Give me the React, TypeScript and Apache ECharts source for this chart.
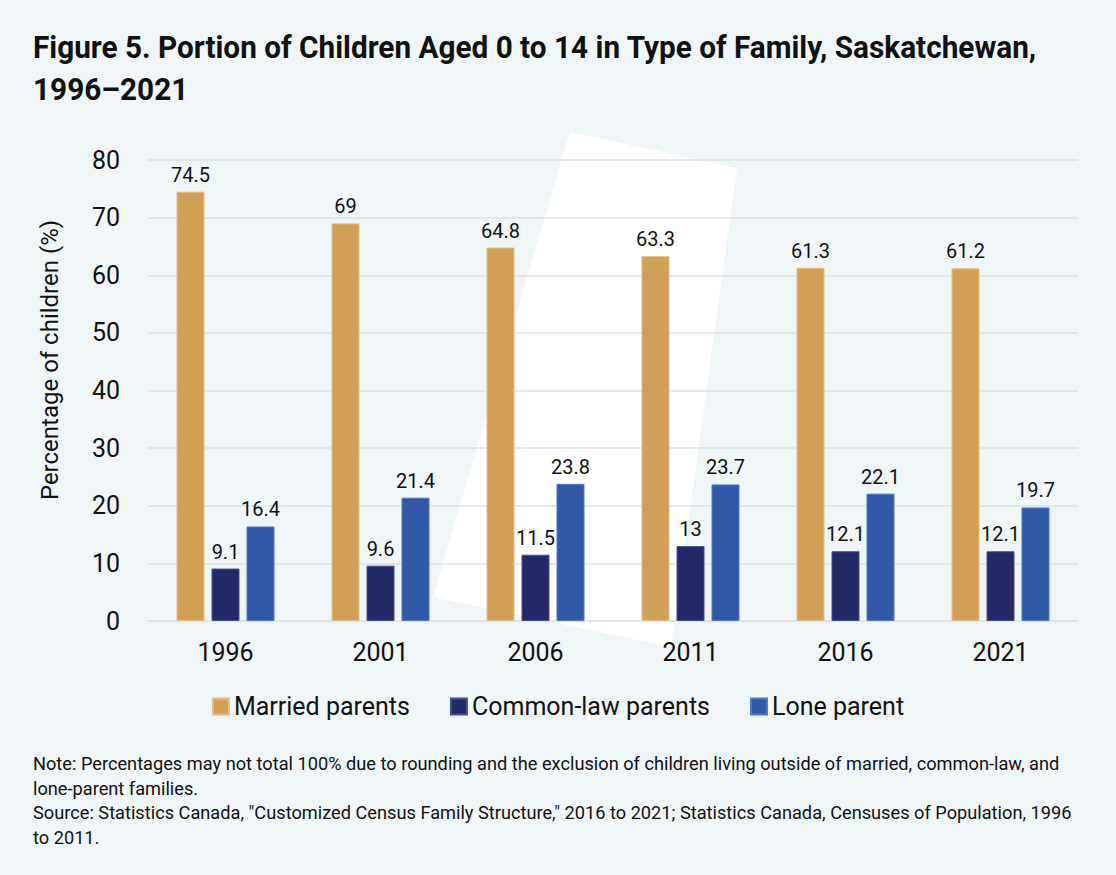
import React, { useEffect, useRef } from "react";
import * as echarts from "echarts";

const categories = ["1996", "2001", "2006", "2011", "2016", "2021"];
const married = [74.5, 69, 64.8, 63.3, 61.3, 61.2];
const commonLaw = [9.1, 9.6, 11.5, 13, 12.1, 12.1];
const loneParent = [16.4, 21.4, 23.8, 23.7, 22.1, 19.7];
const seriesNames = ["Married parents", "Common-law parents", "Lone parent"];
const colors = ["#CFA055", "#222966", "#3159A8"];
const borders = ["#E2BE85", "#4A4F86", "#5577BC"];
const yAxisName = "Percentage of children (%)";
const titleLines = [
  "Figure 5. Portion of Children Aged 0 to 14 in Type of Family, Saskatchewan,",
  "1996–2021",
];
const noteLines = [
  "Note: Percentages may not total 100% due to rounding and the exclusion of children living outside of married, common-law, and",
  "lone-parent families.",
  "Source: Statistics Canada, \"Customized Census Family Structure,\" 2016 to 2021; Statistics Canada, Censuses of Population, 1996",
  "to 2011.",
];

const FONT = "Roboto, 'Liberation Sans', sans-serif";

function measure(text: string, font: string): number {
  const c = document.createElement("canvas");
  const ctx = c.getContext("2d");
  if (!ctx) return 1;
  ctx.font = font;
  return ctx.measureText(text).width || 1;
}

export default function App() {
  const ref = useRef<HTMLDivElement>(null);
  useEffect(() => {
    document.body.style.margin = "0";
    if (!ref.current) return;
    const chart = echarts.init(ref.current, null, { renderer: "svg" });
    const data = [married, commonLaw, loneParent];
    const titleSize = 32;
    const noteSize = 18;
    const titleScale = (1037 - 33) / measure(titleLines[0], `bold ${titleSize}px Roboto`);
    const noteScale = (1060 - 33) / measure(noteLines[0], `${noteSize}px Roboto`);
    chart.setOption({
      animation: false,
      backgroundColor: "#F0F5F8",
      textStyle: { fontFamily: FONT },
      graphic: [
        {
          type: "polygon",
          z: -10,
          silent: true,
          shape: {
            points: [
              [570, 132],
              [737, 168],
              [671, 647],
              [433, 597],
            ],
          },
          style: { fill: "#FFFFFF" },
        },
        {
          type: "text",
          x: 50,
          y: 360,
          rotation: Math.PI / 2,
          style: {
            text: yAxisName,
            fontFamily: "Roboto",
            fontSize: 24,
            fill: "#111111",
            align: "center",
            verticalAlign: "middle",
          },
        },
        ...titleLines.map((t, i) => ({
          type: "text",
          x: 33,
          y: 47 + i * 42,
          scaleX: titleScale,
          style: {
            text: t,
            fontFamily: "Roboto",
            fontSize: titleSize,
            fontWeight: "bold",
            fill: "#111111",
            verticalAlign: "middle",
            align: "left",
          },
        })),
        ...noteLines.map((t, i) => ({
          type: "text",
          x: 33,
          y: 764 + i * 24.5,
          scaleX: noteScale,
          style: {
            text: t,
            fontFamily: "Roboto",
            fontSize: noteSize,
            fill: "#111111",
            verticalAlign: "middle",
            align: "left",
          },
        })),
      ],
      legend: {
        data: seriesNames,
        left: "center",
        top: 689,
        itemWidth: 16,
        itemHeight: 16,
        itemGap: 40,
        icon: "rect",
        textStyle: { fontFamily: FONT, fontSize: 25, color: "#111111", padding: [0, 0, 0, 0] },
      },
      grid: { left: 148, right: 38, top: 160, bottom: 254 },
      xAxis: {
        type: "category",
        data: categories,
        axisLine: { lineStyle: { color: "#DCE1E6", width: 1.5 } },
        axisTick: { show: false },
        axisLabel: { fontFamily: FONT, fontSize: 25, color: "#111111", margin: 19 },
      },
      yAxis: {
        type: "value",
        min: 0,
        max: 80,
        interval: 10,
        axisLine: { show: false },
        axisTick: { show: false },
        axisLabel: { fontFamily: FONT, fontSize: 25, color: "#111111", margin: 28 },
        splitLine: { lineStyle: { color: "#DCE1E6", width: 1.5 } },
      },
      series: seriesNames.map((name, i) => ({
        name,
        type: "bar",
        data: data[i],
        barWidth: 28,
        barGap: "25%",
        itemStyle: { color: colors[i], borderColor: borders[i], borderWidth: 1 },
        label: {
          show: true,
          position: "top",
          distance: 7,
          fontFamily: FONT,
          fontSize: 20,
          color: "#111111",
        },
      })),
    });
    return () => chart.dispose();
  }, []);
  return <div ref={ref} style={{ width: 1116, height: 875 }} />;
}
